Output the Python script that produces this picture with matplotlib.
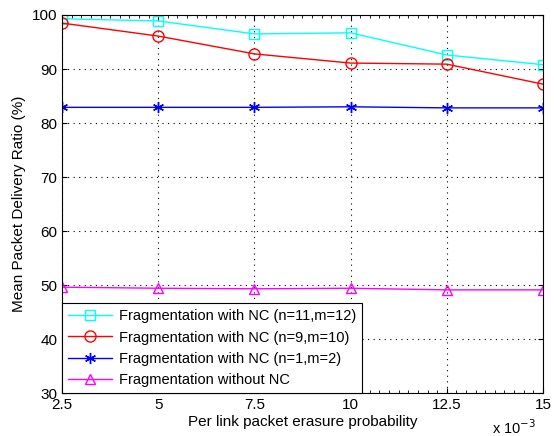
import matplotlib.pyplot as plt
from matplotlib.ticker import AutoMinorLocator

plt.rcParams['font.family'] = ['Liberation Sans', 'DejaVu Sans']

# erasure probability (x 10^-3)
erasure = [2.5, 5, 7.5, 10, 12.5, 15]
nc_11_12 = [99.3, 98.9, 96.5, 96.7, 92.6, 90.8]
nc_9_10 = [98.5, 96.1, 92.8, 91.1, 90.9, 87.2]
nc_1_2 = [82.9, 82.9, 82.9, 83.0, 82.8, 82.8]
no_nc = [49.6, 49.4, 49.3, 49.4, 49.1, 49.1]

fig = plt.figure(figsize=(5.54, 4.36), dpi=100)
ax = fig.add_axes([0.112, 0.0986, 0.868, 0.867])

ax.plot(erasure, nc_11_12, color='cyan', marker='s', mfc='none', ms=7, lw=1,
        label='Fragmentation with NC (n=11,m=12)')
ax.plot(erasure, nc_9_10, color='red', marker='o', mfc='none', ms=8, lw=1,
        label='Fragmentation with NC (n=9,m=10)')
ax.plot(erasure, nc_1_2, color='blue', marker=(6, 2, 0), ms=8, mew=1, lw=1,
        label='Fragmentation with NC (n=1,m=2)')
ax.plot(erasure, no_nc, color='magenta', marker='^', mfc='none', ms=7, lw=1,
        label='Fragmentation without NC')

ax.set_xlim(2.5, 15)
ax.set_ylim(30, 100)
ax.set_xticks(erasure)
ax.set_xticklabels(['2.5', '5', '7.5', '10', '12.5', '15'])
ax.set_yticks(range(30, 101, 10))
ax.xaxis.set_minor_locator(AutoMinorLocator(10))
ax.tick_params(direction='in', labelsize=11, top=True, right=True, which='both')
ax.tick_params(which='minor', length=2)
ax.grid(True, linestyle=(0, (1, 4)), color='black', lw=0.8)

ax.set_xlabel('Per link packet erasure probability', fontsize=11, labelpad=2)
ax.set_ylabel('Mean Packet Delivery Ratio (%)', fontsize=11)
fig.text(536 / 554, 2 / 436, r'x 10$^{-3}$', ha='right', va='baseline',
         fontsize=10.5)

leg = ax.legend(loc='lower left', fontsize=10.5, fancybox=False, framealpha=1,
                edgecolor='black', borderaxespad=0, handlelength=3.0,
                handletextpad=0.5, labelspacing=0.5, borderpad=0.4)
leg.get_frame().set_linewidth(0.8)

fig.savefig('out.png')
